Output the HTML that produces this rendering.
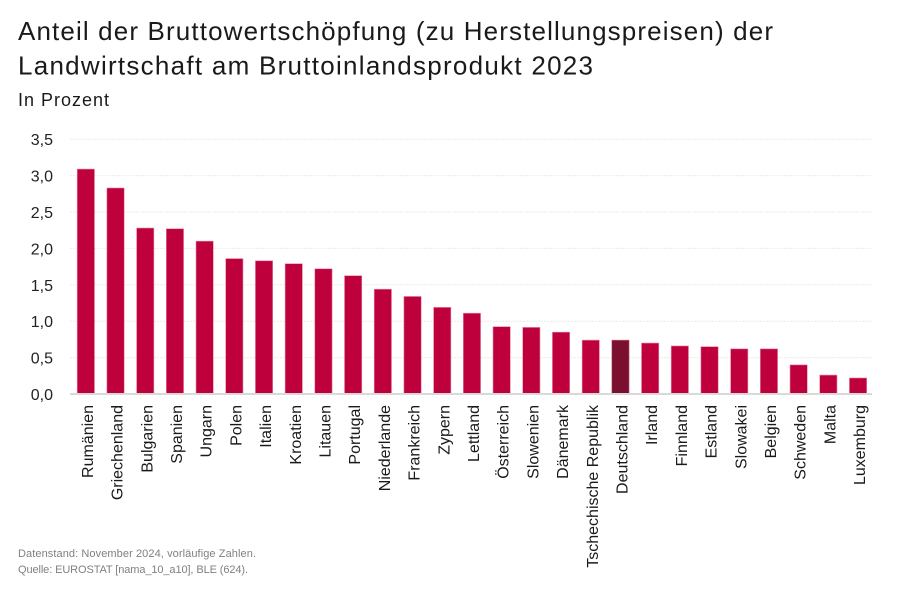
<!DOCTYPE html>
<html><head><meta charset="utf-8"><style>
html,body{margin:0;padding:0;background:#fff;}
svg{display:block;font-family:"Liberation Sans",sans-serif;}
</style></head><body>
<svg width="900" height="589" viewBox="0 0 900 589" xmlns="http://www.w3.org/2000/svg">
<rect width="900" height="589" fill="#fff"/>
<text x="18" y="40" font-size="26" fill="#1a1a1a" textLength="755" lengthAdjust="spacing">Anteil der Bruttowertschöpfung (zu Herstellungspreisen) der</text>
<text x="18" y="74.5" font-size="26" fill="#1a1a1a" textLength="575" lengthAdjust="spacing">Landwirtschaft am Bruttoinlandsprodukt 2023</text>
<text x="18" y="106" font-size="18" fill="#1a1a1a" textLength="91" lengthAdjust="spacing">In Prozent</text>
<g stroke="#ebebeb" stroke-width="1" stroke-dasharray="2,1">
<line x1="70" x2="872" y1="357.6" y2="357.6"/>
<line x1="70" x2="872" y1="321.2" y2="321.2"/>
<line x1="70" x2="872" y1="284.8" y2="284.8"/>
<line x1="70" x2="872" y1="248.4" y2="248.4"/>
<line x1="70" x2="872" y1="212" y2="212"/>
<line x1="70" x2="872" y1="175.6" y2="175.6"/>
<line x1="70" x2="872" y1="139.2" y2="139.2"/>
</g>
<g font-size="16" fill="#222" text-anchor="end">
<text x="53" y="400">0,0</text>
<text x="53" y="363.6">0,5</text>
<text x="53" y="327.2">1,0</text>
<text x="53" y="290.8">1,5</text>
<text x="53" y="254.4">2,0</text>
<text x="53" y="218">2,5</text>
<text x="53" y="181.6">3,0</text>
<text x="53" y="145.2">3,5</text>
</g>
<g fill="#be003c" stroke="#e98aa6" stroke-width="0.6">
<rect x="77.2" y="169.05" width="17.3" height="224.95"/>
<rect x="106.9" y="187.98" width="17.3" height="206.02"/>
<rect x="136.6" y="228.02" width="17.3" height="165.98"/>
<rect x="166.3" y="228.74" width="17.3" height="165.26"/>
<rect x="196.0" y="241.12" width="17.3" height="152.88"/>
<rect x="225.7" y="258.59" width="17.3" height="135.41"/>
<rect x="255.4" y="260.78" width="17.3" height="133.22"/>
<rect x="285.1" y="263.69" width="17.3" height="130.31"/>
<rect x="314.8" y="268.78" width="17.3" height="125.22"/>
<rect x="344.5" y="275.7" width="17.3" height="118.3"/>
<rect x="374.2" y="289.17" width="17.3" height="104.83"/>
<rect x="403.9" y="296.45" width="17.3" height="97.55"/>
<rect x="433.6" y="307.37" width="17.3" height="86.63"/>
<rect x="463.3" y="313.19" width="17.3" height="80.81"/>
<rect x="493.0" y="326.66" width="17.3" height="67.34"/>
<rect x="522.7" y="327.39" width="17.3" height="66.61"/>
<rect x="552.4" y="332.12" width="17.3" height="61.88"/>
<rect x="582.1" y="340.13" width="17.3" height="53.87"/>
<rect x="641.5" y="343.04" width="17.3" height="50.96"/>
<rect x="671.2" y="345.95" width="17.3" height="48.05"/>
<rect x="700.9" y="346.68" width="17.3" height="47.32"/>
<rect x="730.6" y="348.86" width="17.3" height="45.14"/>
<rect x="760.3" y="348.86" width="17.3" height="45.14"/>
<rect x="790.0" y="364.88" width="17.3" height="29.12"/>
<rect x="819.7" y="375.07" width="17.3" height="18.93"/>
<rect x="849.4" y="377.98" width="17.3" height="16.02"/>
</g>
<rect x="611.8" y="340.13" width="17.3" height="53.87" fill="#7a0f2f" stroke="#c9708a" stroke-width="0.6"/>
<line x1="70" x2="872" y1="394" y2="394" stroke="#d9d9d9" stroke-width="2"/>
<g font-size="16" fill="#1a1a1a" text-anchor="end">
<text transform="translate(92.85,405) rotate(-90)">Rumänien</text>
<text transform="translate(122.55,405) rotate(-90)">Griechenland</text>
<text transform="translate(152.25,405) rotate(-90)">Bulgarien</text>
<text transform="translate(181.95,405) rotate(-90)">Spanien</text>
<text transform="translate(211.65,405) rotate(-90)">Ungarn</text>
<text transform="translate(241.35,405) rotate(-90)">Polen</text>
<text transform="translate(271.05,405) rotate(-90)">Italien</text>
<text transform="translate(300.75,405) rotate(-90)">Kroatien</text>
<text transform="translate(330.45,405) rotate(-90)">Litauen</text>
<text transform="translate(360.15,405) rotate(-90)">Portugal</text>
<text transform="translate(389.85,405) rotate(-90)">Niederlande</text>
<text transform="translate(419.55,405) rotate(-90)">Frankreich</text>
<text transform="translate(449.25,405) rotate(-90)">Zypern</text>
<text transform="translate(478.95,405) rotate(-90)">Lettland</text>
<text transform="translate(508.65,405) rotate(-90)">Österreich</text>
<text transform="translate(538.35,405) rotate(-90)">Slowenien</text>
<text transform="translate(568.05,405) rotate(-90)">Dänemark</text>
<text transform="translate(597.75,405) rotate(-90)">Tschechische Republik</text>
<text transform="translate(627.45,405) rotate(-90)">Deutschland</text>
<text transform="translate(657.15,405) rotate(-90)">Irland</text>
<text transform="translate(686.85,405) rotate(-90)">Finnland</text>
<text transform="translate(716.55,405) rotate(-90)">Estland</text>
<text transform="translate(746.25,405) rotate(-90)">Slowakei</text>
<text transform="translate(775.95,405) rotate(-90)">Belgien</text>
<text transform="translate(805.65,405) rotate(-90)">Schweden</text>
<text transform="translate(835.35,405) rotate(-90)">Malta</text>
<text transform="translate(865.05,405) rotate(-90)">Luxemburg</text>
</g>
<text x="18" y="557" font-size="11" fill="#808080" textLength="238" lengthAdjust="spacing">Datenstand: November 2024, vorläufige Zahlen.</text>
<text x="18" y="573" font-size="11" fill="#808080" textLength="230" lengthAdjust="spacing">Quelle: EUROSTAT [nama_10_a10], BLE (624).</text>
</svg>
</body></html>
